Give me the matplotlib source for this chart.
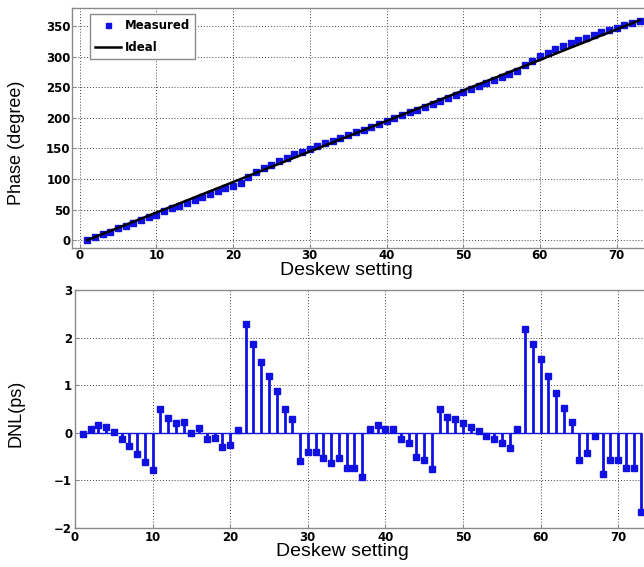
import numpy as np
import matplotlib
matplotlib.use("Agg")
import matplotlib.pyplot as plt

# deskew settings 1..73
setting = list(range(1, 74))

# measured phase (degree) for each deskew setting
phase_measured = [
    0, 4.5, 9.5, 14, 19, 23.5, 28, 32.5, 37, 41.5,
    47, 52, 56.5, 61.5, 66, 71, 75.5, 80, 84.5, 89,
    94, 104, 111, 117.5, 123.5, 129.5, 135, 140.5, 145, 149.5,
    154, 158.5, 163, 167.5, 172, 176.5, 180.5, 185.5, 190.5, 195,
    200, 204.5, 209, 213.5, 218, 222.5, 228, 233, 238, 243,
    248, 253, 257.5, 262.5, 267, 272, 277, 286, 294, 301,
    307, 312.5, 318, 323, 327, 331, 336, 340, 344, 348,
    352, 355, 358,
]

# ideal transfer: straight line from first to last setting
ideal_x = [1, 73]
ideal_y = [0, 360]

# differential non-linearity (ps)
dnl = [
    -0.02, 0.08, 0.16, 0.12, 0.02, -0.12, -0.27, -0.45, -0.61, -0.78,
    0.49, 0.32, 0.21, 0.23, 0.0, 0.10, -0.12, -0.10, -0.30, -0.25,
    0.05, 2.28, 1.87, 1.48, 1.19, 0.88, 0.49, 0.30, -0.60, -0.41,
    -0.41, -0.52, -0.63, -0.52, -0.73, -0.73, -0.93, 0.08, 0.17, 0.08,
    0.08, -0.13, -0.22, -0.50, -0.57, -0.77, 0.51, 0.34, 0.29, 0.20,
    0.13, 0.03, -0.06, -0.14, -0.21, -0.31, 0.09, 2.19, 1.87, 1.55,
    1.20, 0.83, 0.53, 0.23, -0.57, -0.43, -0.06, -0.87, -0.58, -0.58,
    -0.73, -0.73, -1.66,
]

BLUE = "#1010e0"
TICK_FONT = dict(family="DejaVu Sans", weight="bold", size=8.5)
LABEL_FONT = dict(family="Liberation Sans", size=14)


def style_axes(ax, pad=1):
    ax.grid(True, color="#444444", linestyle=(0, (1, 2)), linewidth=0.7)
    ax.set_axisbelow(True)
    for s in ax.spines.values():
        s.set_color("#8a8a8a")
        s.set_linewidth(1.0)
    ax.tick_params(direction="in", length=3, width=0.8, color="#8a8a8a",
                   pad=pad, top=False, right=False)
    for lbl in ax.get_xticklabels() + ax.get_yticklabels():
        lbl.set_fontproperties(matplotlib.font_manager.FontProperties(**TICK_FONT))


fig = plt.figure(figsize=(6.44, 5.67), dpi=100, facecolor="white")

# phase vs setting
ax1 = fig.add_axes([72 / 644, 1 - 248 / 567, 583 / 644, 240 / 567])
ax1.plot(setting, phase_measured, linestyle="", marker="s", markersize=4,
         color=BLUE, markeredgecolor=BLUE, label="Measured", zorder=2)
ax1.plot(ideal_x, ideal_y, color="black", linewidth=1.8, label="Ideal", zorder=3)
ax1.set_xlim(-1, 75)
ax1.set_ylim(-13, 380)
ax1.set_xticks(np.arange(0, 80, 10))
ax1.set_yticks(np.arange(0, 400, 50))
style_axes(ax1)
ax1.set_xlabel("Deskew setting", **LABEL_FONT)
ax1.xaxis.set_label_coords(0.47, -0.06, transform=ax1.transAxes)
ax1.xaxis.label.set_va("top")
ax1.set_ylabel("Phase (degree)", family="Liberation Sans", size=13)
ax1.yaxis.set_label_coords(-0.08, 0.44)
leg = ax1.legend(loc="upper left", bbox_to_anchor=(0.031, 0.975), borderaxespad=0,
                 prop=dict(family="DejaVu Sans", weight="bold", size=8.5),
                 fancybox=False, framealpha=1, edgecolor="#8a8a8a",
                 handlelength=2.2, handletextpad=0.3, labelspacing=0.75,
                 borderpad=0.45, markerscale=0.9)
leg.get_frame().set_linewidth(1.0)

# DNL stem plot
ax2 = fig.add_axes([75 / 644, 1 - 528 / 567, 582 / 644, 238 / 567])
markers, stems, base = ax2.stem(setting, dnl, linefmt="-", markerfmt="s",
                                basefmt="-")
plt.setp(stems, color=BLUE, linewidth=2.0)
plt.setp(markers, color=BLUE, markersize=5, markeredgecolor=BLUE)
plt.setp(base, color=BLUE, linewidth=1.0)
ax2.set_xlim(0, 75)
ax2.set_ylim(-2, 3)
ax2.set_xticks(np.arange(0, 80, 10))
ax2.set_yticks(np.arange(-2, 4, 1))
style_axes(ax2, pad=2)
ax2.set_xlabel("Deskew setting", **LABEL_FONT)
ax2.xaxis.set_label_coords(0.459, -0.062, transform=ax2.transAxes)
ax2.xaxis.label.set_va("top")
ax2.set_ylabel("DNL(ps)", family="Liberation Sans", size=13)
ax2.yaxis.set_label_coords(-0.087, 0.48)

fig.savefig("out.png", dpi=100)
